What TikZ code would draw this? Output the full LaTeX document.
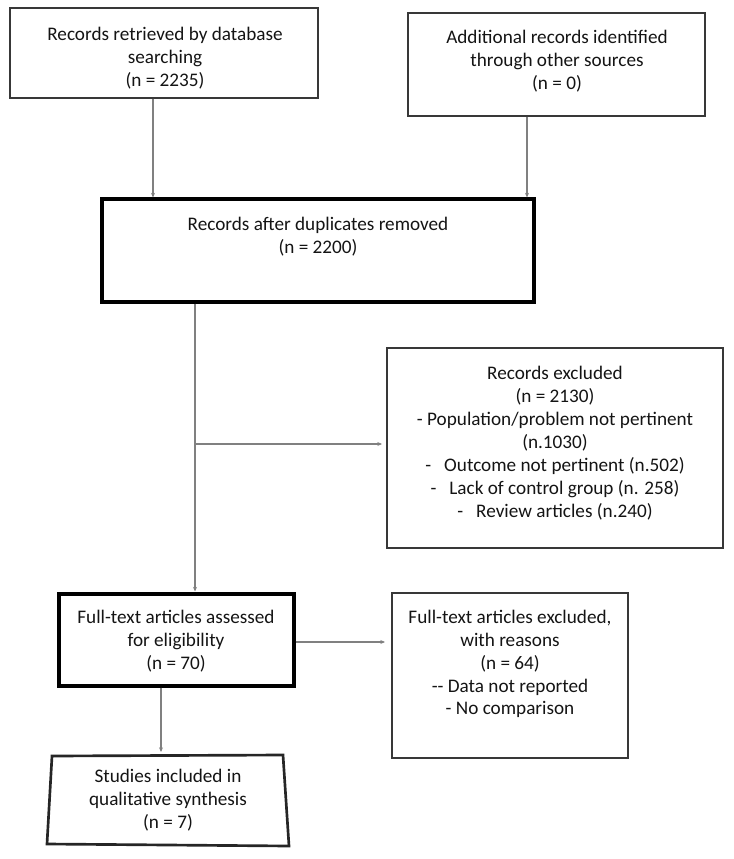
\documentclass[tikz,border=0pt]{standalone}
\usepackage{fontspec}
\setmainfont{Carlito}
\usetikzlibrary{arrows.meta}
\begin{document}
\begin{tikzpicture}[x=0.75pt,y=-0.75pt,
  thinbox/.style={draw=black!78, line width=1.1pt, inner sep=0pt},
  thickbox/.style={draw=black, line width=3pt, inner sep=0pt},
  txt/.style={align=center, inner sep=0pt, font=\fontsize{14.4}{17.2}\selectfont, text=black!92},
  conn/.style={draw=black!50, line width=0.8pt},
  arr/.style={conn, -{Stealth[length=3.5pt,width=3pt]}, shorten >=0pt}]
\useasboundingbox (0,0) rectangle (733,859);
% boxes
\node[thinbox, minimum width=308*0.75pt, minimum height=90*0.75pt] (b1) at (164,53) {};
\node[thinbox, minimum width=297*0.75pt, minimum height=103*0.75pt] (b2) at (556.5,64.5) {};
\node[thickbox, minimum width=432*0.75pt, minimum height=102*0.75pt] (b3) at (317.5,250.5) {};
\node[thinbox, minimum width=336*0.75pt, minimum height=200*0.75pt] (b5) at (555,448) {};
\node[thickbox, minimum width=235*0.75pt, minimum height=92*0.75pt] (b4) at (176,639.5) {};
\node[thinbox, minimum width=236*0.75pt, minimum height=165*0.75pt] (b6) at (510,675.5) {};
\draw[draw=black!85, line width=2pt] (52,756) -- (283,755) -- (289,846) -- (47,844) -- cycle;
\coordinate (b7top) at (161,752);
% texts
\node[txt] (t1) at (165,58) {Records retrieved by database\\searching\\(n = 2235)};
\node[txt] (t2) at (557,61) {Additional records identified\\through other sources\\(n = 0)};
\node[txt] (t3) at (318,237) {Records after duplicates removed\\(n = 2200)};
\node[txt] (t5) at (555,443) {Records excluded\\(n = 2130)\\- Population/problem not pertinent\\(n.1030)\\-\ \ \ Outcome not pertinent (n.502)\\-\ \ \ Lack of control group (n. 258)\\-\ \ \ Review articles (n.240)};
\node[txt] (t4) at (176,641) {Full-text articles assessed\\for eligibility\\(n = 70)};
\node[txt] (t6) at (510,664) {Full-text articles excluded,\\with reasons\\(n = 64)\\-{}- Data not reported\\- No comparison};
\node[txt] (t7) at (168,800) {Studies included in\\qualitative synthesis\\(n = 7)};
% connectors
\coordinate (x1) at (153,0);
\coordinate (x2) at (527,0);
\coordinate (x3) at (195,0);
\coordinate (branch) at (195,444);
\coordinate (b5in) at (382,444);
\coordinate (b6in) at (385,642);
\draw[arr] (b1.south -| x1) -- (b3.north -| x1);
\draw[arr] (b2.south -| x2) -- (b3.north -| x2);
\draw[arr] (b3.south -| x3) -- (b4.north -| x3);
\draw[arr] (branch) -- (b5in);
\draw[arr] (b4.east |- b6in) -- (b6in);
\draw[arr] (b4.south -| b7top) -- (b7top);
\end{tikzpicture}
\end{document}
